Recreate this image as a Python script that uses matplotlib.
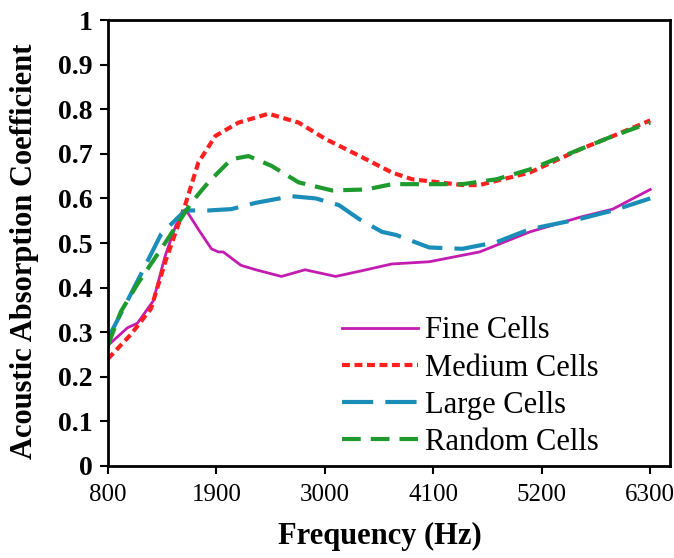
import matplotlib
matplotlib.use("Agg")
import matplotlib.pyplot as plt
from matplotlib.ticker import FuncFormatter

plt.rcParams['font.family'] = ['Liberation Serif', 'DejaVu Serif']

# values
fine_f = [800, 900, 1000, 1100, 1260, 1380, 1490, 1590, 1720, 1850, 1920, 1970,
          2150, 2300, 2560, 2800, 3110, 3420, 3680, 4060, 4570, 5080, 5590, 5920, 6300]
fine_a = [0.27, 0.29, 0.31, 0.32, 0.37, 0.47, 0.54, 0.575, 0.53, 0.487, 0.48, 0.48,
          0.45, 0.44, 0.425, 0.44, 0.425, 0.44, 0.453, 0.458, 0.48, 0.525, 0.558, 0.576, 0.62]

medium_f = [800, 1034, 1238, 1381, 1584, 1717, 1890, 2124, 2430, 2735, 3010, 3346,
            3682, 3886, 4395, 4568, 5078, 5587, 5923, 6300]
medium_a = [0.24, 0.295, 0.353, 0.457, 0.585, 0.68, 0.74, 0.77, 0.79, 0.77, 0.733, 0.696,
            0.658, 0.643, 0.63, 0.63, 0.658, 0.71, 0.74, 0.775]

large_f = [800, 1136, 1340, 1584, 1819, 2053, 2297, 2664, 2908, 3143, 3346, 3580,
           3723, 4059, 4395, 4742, 5078, 5587, 5923, 6300]
large_a = [0.285, 0.43, 0.52, 0.573, 0.573, 0.576, 0.59, 0.605, 0.6, 0.585, 0.554, 0.525,
           0.518, 0.49, 0.487, 0.502, 0.531, 0.554, 0.573, 0.6]

random_f = [800, 932, 1106, 1381, 1645, 1819, 2053, 2226, 2460, 2735, 3071, 3418,
            3682, 3886, 4395, 4742, 5078, 5587, 5923, 6300]
random_a = [0.27, 0.346, 0.41, 0.50, 0.59, 0.636, 0.688, 0.695, 0.673, 0.636, 0.618, 0.62,
            0.632, 0.632, 0.632, 0.643, 0.665, 0.71, 0.74, 0.77]

x_ticks = [800, 1900, 3000, 4100, 5200, 6300]

fig = plt.figure(figsize=(6.74, 5.58), dpi=100)
ax = fig.add_axes([0.160, 0.165, 0.834, 0.799])

ax.plot(fine_f, fine_a, color='#c21cb0', lw=2, label='Fine Cells')
ax.plot(medium_f, medium_a, color='#ff1f1f', lw=3, dashes=(1.9, 1.1), label='Medium Cells')
ax.plot(large_f, large_a, color='#1a8db8', lw=3, dashes=(7.5, 2.9), label='Large Cells')
ax.plot(random_f, random_a, color='#1f9a2e', lw=3, dashes=(4.5, 2.4), label='Random Cells')

ax.set_xlim(800, 6500)
ax.set_ylim(0, 1)
ax.set_xticks(x_ticks)
ax.set_yticks([i / 10 for i in range(11)])
ax.yaxis.set_major_formatter(FuncFormatter(lambda v, p: '%g' % v))
ax.tick_params(direction='out', length=6, width=1.5)
ax.tick_params(axis='x', labelsize=18, pad=7)
ax.tick_params(axis='y', labelsize=20, pad=5)
for lb in ax.get_yticklabels():
    lb.set_fontweight('bold')
for s in ax.spines.values():
    s.set_linewidth(2)

ax.set_xlabel('Frequency (Hz)', fontsize=22, fontweight='bold')
ax.xaxis.set_label_coords(0.484, -0.125)
ax.set_ylabel('Acoustic Absorption Coefficient', fontsize=22, fontweight='bold')
ax.yaxis.set_label_coords(-0.122, 0.482)

ax.legend(loc='lower left', bbox_to_anchor=(0.416, 0.02), frameon=False, fontsize=22,
          handlelength=2.5, handletextpad=0.22, labelspacing=0.27, borderpad=0,
          borderaxespad=0)

fig.savefig('out.png', dpi=100)
